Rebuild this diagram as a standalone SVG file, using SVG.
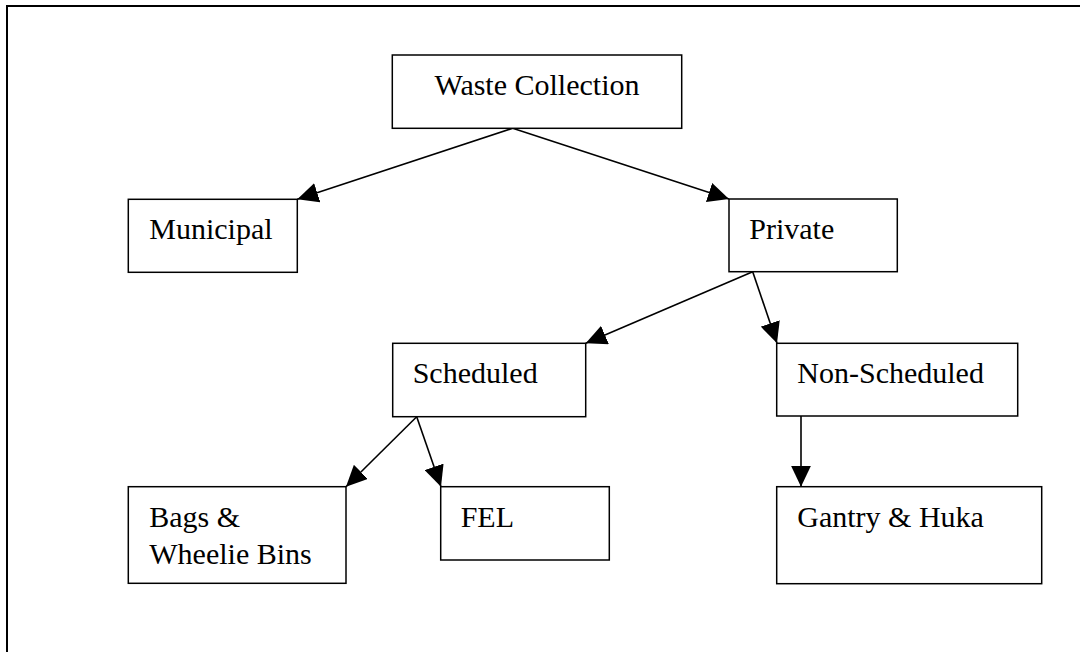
<svg xmlns="http://www.w3.org/2000/svg" width="1080" height="652" viewBox="0 0 1080 652">
  <style>
    .box { fill: #ffffff; stroke: #000000; stroke-width: 1.5; }
    .lbl { font-family: "Palatino Linotype", "Book Antiqua", Palatino, "Liberation Serif", serif; font-size: 30px; fill: #000000; }
    .edge { stroke: #000000; stroke-width: 1.6; fill: none; marker-end: url(#arrow); }
    .frame { fill: none; stroke: #000000; stroke-width: 2; }
  </style>
  <defs>
    <marker id="arrow" viewBox="0 0 21 20" markerWidth="21" markerHeight="20" refX="21" refY="10" orient="auto" markerUnits="userSpaceOnUse">
      <path d="M0,0 L21,10 L0,20 Z" fill="#000000"/>
    </marker>
  </defs>
  <rect width="1080" height="652" fill="#ffffff"/>
  <path class="frame" d="M7,653 L7,6 L1081,6"/>

  <g id="connectors">
    <line class="edge" x1="512.7" y1="128.3" x2="297.3" y2="199.3"/>
    <line class="edge" x1="512.7" y1="128.3" x2="729" y2="199"/>
    <line class="edge" x1="752.7" y1="271.7" x2="585.7" y2="343.3"/>
    <line class="edge" x1="752.7" y1="271.7" x2="777" y2="343.3"/>
    <line class="edge" x1="801" y1="416" x2="801" y2="486.7"/>
    <line class="edge" x1="416.7" y1="416.7" x2="346" y2="486.7"/>
    <line class="edge" x1="416.7" y1="416.7" x2="441" y2="486.7"/>
  </g>

  <g id="waste-collection">
    <rect class="box" x="392.3" y="55" width="289.4" height="73.3"/>
    <text class="lbl" x="537" y="95" text-anchor="middle">Waste Collection</text>
  </g>
  <g id="municipal">
    <rect class="box" x="128.3" y="199.3" width="169" height="73"/>
    <text class="lbl" x="149.3" y="239.3">Municipal</text>
  </g>
  <g id="private">
    <rect class="box" x="729" y="199" width="168.3" height="72.7"/>
    <text class="lbl" x="749.3" y="239.3">Private</text>
  </g>
  <g id="scheduled">
    <rect class="box" x="392.7" y="343.3" width="193" height="73.4"/>
    <text class="lbl" x="412.7" y="383.3">Scheduled</text>
  </g>
  <g id="non-scheduled">
    <rect class="box" x="776.7" y="343.3" width="241" height="72.7"/>
    <text class="lbl" x="797.3" y="383.3">Non-Scheduled</text>
  </g>
  <g id="bags-wheelie-bins">
    <rect class="box" x="128.3" y="486.7" width="217.7" height="96.6"/>
    <text class="lbl" x="149.3" y="526.7">Bags &amp;</text>
    <text class="lbl" x="149.3" y="564">Wheelie Bins</text>
  </g>
  <g id="fel">
    <rect class="box" x="440.7" y="486.7" width="168.6" height="73.3"/>
    <text class="lbl" x="460.7" y="526.7">FEL</text>
  </g>
  <g id="gantry-huka">
    <rect class="box" x="776.7" y="486.7" width="265" height="97"/>
    <text class="lbl" x="797.3" y="526.7">Gantry &amp; Huka</text>
  </g>
</svg>
